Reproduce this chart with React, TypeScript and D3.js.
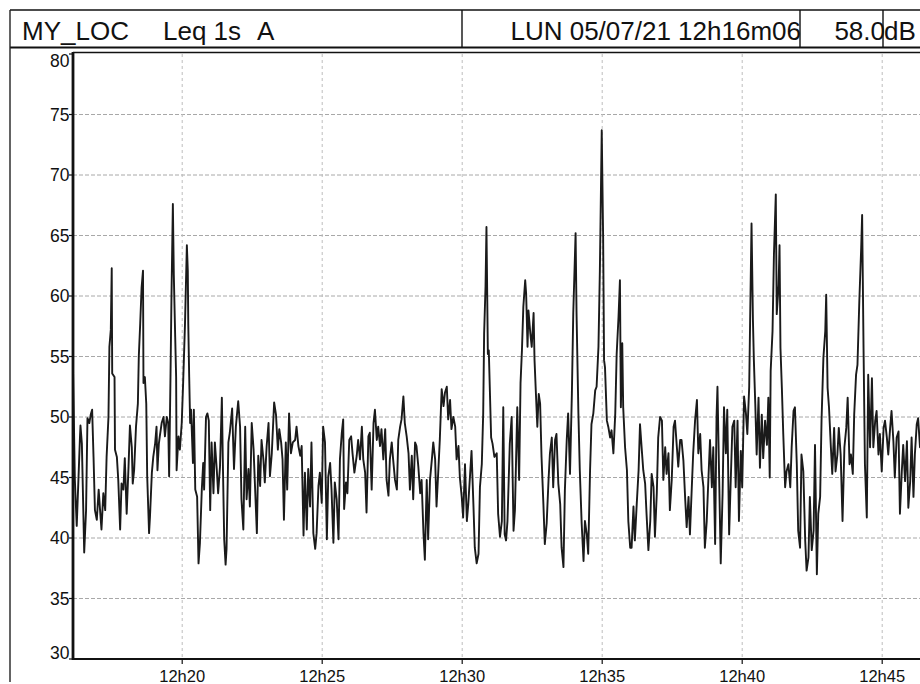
import React from "react";
import * as d3 from "d3";

// elapsed seconds since 12h16m06 and Leq 1s A level (dB)
const elapsedSec: number[] = [
  0, 4, 8, 15, 16, 19, 24, 28, 31, 35, 38, 41, 44, 47, 51, 55, 58, 61, 65, 69, 72, 76, 78, 81, 83, 84, 89, 90, 94, 97,
  101, 104, 108, 111, 115, 119, 122, 126, 128, 131, 135, 139, 141, 144, 147, 150, 151, 154, 157, 159, 163, 165, 169, 172, 176, 179, 181, 184, 186, 190,
  194, 197, 201, 204, 206, 209, 211, 214, 216, 219, 221, 222, 226, 229, 233, 236, 240, 244, 246, 247, 249, 251, 253, 257, 259, 262, 266, 269, 272, 276,
  279, 281, 285, 288, 291, 294,
  297, 301, 304, 308, 311, 315, 319, 321, 324, 327, 329, 333, 336, 341, 345, 349, 354, 358, 361, 365, 369, 372, 376, 379, 383, 387, 390, 394, 397, 401,
  404, 408, 411, 415, 419, 422, 426, 431, 435, 439, 442, 446, 449, 452, 456, 459, 463, 467, 471, 476, 479, 483, 487, 490, 494, 497, 501, 504, 508, 511,
  515, 519, 522, 526, 529, 533, 536, 540, 544, 547, 551, 554, 558, 561, 565, 569, 572, 576, 579, 581, 585, 588, 592, 596, 599, 603,
  608, 611, 615, 619, 622, 626, 629, 633, 636, 640, 644, 647, 651, 654, 658, 661, 665, 669, 672, 676, 679, 683, 686, 690, 694, 697, 701, 704, 708, 711,
  715, 719, 722, 726, 729, 733, 736, 740, 744, 747, 751, 754, 758, 761, 765, 769, 772, 776, 779, 783, 786, 790, 794, 797, 801, 804, 808, 811, 815, 819,
  822, 826,
  829, 833, 836, 840, 844, 847, 851, 854, 858, 861, 865, 869, 872, 876, 879, 881, 884, 886, 889, 891, 896, 899, 903, 908, 911, 915, 919, 922, 925, 928,
  931, 936, 940, 944, 947, 952, 956, 959, 962, 965, 969, 971, 974, 976, 980, 983, 987, 989, 992, 995, 998, 1001, 1004, 1008, 1011, 1015, 1019, 1022, 1026, 1029,
  1033, 1036, 1040, 1044, 1047, 1051, 1054, 1058, 1061, 1065, 1069, 1072, 1077, 1079, 1083, 1086, 1090, 1094, 1097, 1101, 1104, 1108, 1111, 1115, 1119, 1122, 1126, 1129, 1133, 1136,
  1138, 1140,
  1144, 1147, 1151, 1154, 1158, 1162, 1165, 1169, 1172, 1174, 1177, 1179, 1183, 1187, 1190, 1194, 1197, 1201, 1204, 1208, 1212, 1215, 1219, 1222, 1226, 1229, 1233, 1237, 1240, 1244,
  1247, 1251, 1254, 1258, 1262, 1265, 1269, 1272, 1276, 1279, 1283, 1287, 1290, 1294, 1297, 1301, 1304, 1308, 1312, 1315, 1319, 1322, 1326, 1329, 1333, 1337, 1340, 1344, 1347, 1351,
  1354, 1358, 1362, 1365, 1369, 1372, 1376, 1379, 1381, 1385, 1388, 1392, 1395, 1399, 1402, 1406, 1409, 1413, 1417, 1420, 1424, 1427, 1431, 1434, 1438, 1442, 1445, 1449, 1451, 1454,
  1457, 1459, 1462,
  1465, 1469, 1472, 1476, 1479, 1483, 1487, 1490, 1493, 1495, 1499, 1502, 1506, 1508, 1512, 1514, 1516, 1519, 1522, 1526, 1529, 1533, 1537, 1540, 1544, 1547, 1551, 1554, 1558, 1561,
  1565, 1569, 1572, 1576, 1579, 1583, 1587, 1590, 1594, 1597, 1601, 1604, 1608, 1612, 1614, 1617, 1620, 1624, 1627, 1631, 1634, 1638, 1641, 1645, 1649, 1653, 1657, 1660, 1664, 1667,
  1671, 1674, 1678, 1681, 1685, 1689, 1691, 1694, 1697, 1701, 1704, 1708, 1712, 1715, 1719, 1722, 1726, 1729, 1733, 1737, 1740, 1744, 1747, 1751, 1754, 1758, 1761, 1765, 1769, 1772,
  1776, 1779, 1783, 1787, 1790, 1794, 1797, 1801, 1804, 1808, 1811, 1815, 1822,
];

const levelDb: number[] = [
  54, 44.8, 41, 48.4, 49.3, 47.8, 38.8, 42.3, 49.9, 49.5, 50.2, 50.6, 46.7, 42.3, 41.5, 44, 42.3, 40.7, 43.7, 42.3, 46.7, 50, 55.8, 57.2, 62.3, 53.6, 53.3, 47.3, 46.7, 44.8,
  40.7, 44.5, 44, 46.6, 42, 45.9, 49.3, 47.5, 44.5, 45.6, 49.2, 51.1, 55, 57.7, 60.7, 62.1, 52.8, 53.3, 51.1, 45.1, 40.4, 41.8, 45.4, 46.7, 47.8, 49.2, 45.6, 47.8, 48.4, 49.5,
  50, 48.4, 50, 49.5, 45.1, 53.6, 59.9, 67.6, 61.8, 56.6, 53.3, 45.6, 48.4, 47.3, 49.5, 52.8, 57.7, 64.2, 62.1, 57.7, 53.3, 49.5, 50.6, 46.2, 50.6, 44, 43.4, 37.9, 39.6, 44,
  46.2, 44, 50, 50.3, 49.7, 42.3,
  47.9, 43.7, 47.9, 45.7, 43.7, 45.9, 51.6, 46.5, 39.9, 37.8, 39.1, 47.9, 48.7, 50.7, 45.7, 49.2, 51.3, 49.2, 43.2, 40.7, 49.2, 43.2, 45.7, 42.6, 49.5, 47.3, 44.3, 40.4, 46.8, 44.3,
  48.1, 46.5, 44.6, 47.6, 49.5, 45.1, 47, 51.2, 50.2, 47.3, 49, 47.9, 46.5, 41.5, 47.9, 44, 50.3, 47, 47.9, 48.1, 49.2, 47.6, 46.8, 47.6, 40.2, 45.4, 40.7, 45.7, 42.6, 47.9,
  40.4, 39.1, 40.4, 44.3, 45.4, 42.9, 49.2, 47.9, 39.9, 45.1, 46.2, 44, 39.6, 44.6, 43.2, 39.9, 46.5, 48.7, 49.8, 42.4, 44.6, 43.7, 48.1, 48.4, 47, 45.4,
  46.8, 48.1, 46.5, 49.2, 46.5, 45.4, 42.1, 48.4, 48.7, 44, 49.5, 50.6, 48.1, 49.2, 47.6, 49, 46.5, 49, 44.8, 43.5, 46.5, 47.9, 46.5, 44.8, 44, 48.1, 49.2, 49.8, 51.7, 49.5,
  48.4, 47, 44, 46.8, 43.2, 47.9, 47.6, 45.9, 43.7, 44.8, 40.4, 38.2, 44.8, 39.9, 44.8, 46.5, 47.9, 46.5, 42.6, 45.7, 48.1, 52.3, 50.9, 52, 52.5, 49.8, 51.4, 49, 50, 49.2,
  46.5, 47.6,
  45, 43.4, 41.7, 46.1, 41.4, 42.8, 45.3, 47.2, 42.8, 39.2, 37.9, 38.7, 44.2, 46.1, 50.3, 56.9, 60.8, 65.7, 55.2, 55.5, 48.3, 47.8, 46.7, 47, 42, 40.1, 41.4, 50.8, 40.3, 39.8,
  41.4, 47.8, 50, 40.6, 42.3, 50.8, 44.8, 52.8, 55.5, 59.1, 61.3, 60.2, 55.8, 58.8, 56.9, 55.8, 58.6, 54.7, 51.9, 49.2, 51.9, 51.1, 46.7, 42.8, 39.5, 41.2, 44.8, 47, 48.3, 44.2,
  48.1, 48.6, 44.5, 42.8, 39.2, 37.6, 43.9, 48.1, 50.3, 45.3, 51.9, 58.6, 65.2, 58.6, 50.3, 45.6, 41.2, 38.1, 41.4, 40.3, 38.7, 45.6, 49.4, 50.3, 52.2, 52.5, 55.8, 62.1, 73.7, 64.9,
  54.7, 54.1,
  49.7, 49.2, 48.3, 48.9, 47, 50.3, 55.2, 58.3, 61.3, 50.8, 56.1, 50.8, 47.5, 45.6, 41.4, 39.2, 39.2, 42.6, 39.8, 42.8, 45.6, 49.4, 47.2, 45.6, 44.5, 42, 39, 41.4, 45.3, 44.2,
  40.1, 43.7, 48.3, 50, 49.7, 44.8, 47.5, 45.3, 47, 42.3, 44.8, 49.2, 49.7, 47.5, 45.9, 48.1, 48.1, 46.4, 43.1, 40.9, 43.4, 40.3, 44.2, 47, 49.7, 51.4, 47, 48.6, 45.6, 44.2,
  39.2, 41.4, 45.3, 48.1, 44.2, 47.5, 39.5, 50, 52.5, 44.2, 37.9, 43.7, 50.8, 47, 50.6, 40.3, 44.2, 49.2, 49.7, 44.2, 49.7, 41.4, 47.2, 44.2, 51.7, 50.3, 48.6, 52.5, 58, 66,
  58, 54.7, 51.1,
  46.9, 51.6, 45.8, 50.2, 46.6, 49.7, 47.7, 51.6, 45, 53.8, 57.1, 63.4, 68.4, 58.5, 60.9, 64.2, 55.7, 52.4, 48.6, 44.2, 45.5, 46.1, 44.2, 47.5, 50.5, 50.8, 46.1, 40.6, 39.2, 46.9,
  45.5, 39.8, 37.3, 38.4, 43.4, 39, 40.6, 47.7, 37, 42, 43.4, 49.7, 54.9, 57.1, 60.1, 52.4, 50.8, 47.5, 45.3, 49.1, 45.5, 46.9, 49.1, 46.9, 41.4, 47.5, 49.1, 51.6, 46.1, 46.9,
  45.3, 50.2, 53.5, 54.3, 59.6, 64, 66.7, 55.7, 46.1, 41.7, 53.5, 47.5, 53.2, 47.5, 49.7, 50.5, 46.9, 48.6, 45.5, 49.1, 49.7, 48.3, 46.9, 49.1, 50.5, 48, 45, 48.3, 48.8, 42,
  45.5, 47.7, 44.7, 48, 42.5, 44.7, 48.3, 43.4, 46.9, 49.4, 49.9, 47.5, 49,
];

const yTicks: number[] = [30, 35, 40, 45, 50, 55, 60, 65, 70, 75, 80];
const xTickMinutes: number[] = [20, 25, 30, 35, 40, 45];

const titleLeft = "MY_LOC";
const titleMode = "Leq 1s";
const titleWeight = "A";
const titleDate = "LUN 05/07/21 12h16m06";
const titleValue = "58.0";
const titleUnit = "dB";

const FONT = "'Liberation Sans', Arial, sans-serif";

export default function App() {
  const W = 920;
  const H = 684;
  const start = new Date(2021, 6, 5, 12, 16, 6);
  const end = new Date(start.getTime() + 1824 * 1000);

  const x = d3.scaleTime().domain([start, end]).range([73, 73 + (1824 / 60) * 28]);
  const y = d3.scaleLinear().domain([30, 80]).range([659, 54]);

  const pts: [Date, number][] = elapsedSec.map((s, i) => [new Date(start.getTime() + s * 1000), levelDb[i]]);
  const line = d3
    .line<[Date, number]>()
    .x((d) => x(d[0]))
    .y((d) => y(d[1]));

  const xTicks = xTickMinutes.map((m) => new Date(2021, 6, 5, 12, m, 0));
  const fmt = d3.timeFormat("%Hh%M");

  const left = x(start);
  const bottom = y(30);
  const top = y(80);

  return (
    <svg
      width={W}
      height={H}
      style={{ position: "fixed", left: 0, top: 0, background: "#fff" }}
    >
      <rect x={0} y={0} width={W} height={H} fill="#fff" />
      {/* header */}
      <line x1={10} y1={10} x2={W} y2={10} stroke="#111" strokeWidth={1.6} />
      <line x1={10} y1={47.5} x2={W} y2={47.5} stroke="#111" strokeWidth={2} />
      <line x1={10} y1={10} x2={10} y2={682} stroke="#222" strokeWidth={1.4} />
      <line x1={462} y1={10} x2={462} y2={47.5} stroke="#111" strokeWidth={1.4} />
      <line x1={800} y1={10} x2={800} y2={47.5} stroke="#111" strokeWidth={1.4} />
      <line x1={883} y1={10} x2={883} y2={47.5} stroke="#111" strokeWidth={1.4} />
      <text x={22} y={40} fontFamily={FONT} fontSize={26} fill="#111">{titleLeft}</text>
      <text x={163} y={40} fontFamily={FONT} fontSize={26} fill="#111">{titleMode}</text>
      <text x={257} y={40} fontFamily={FONT} fontSize={26} fill="#111">{titleWeight}</text>
      <text x={801} y={40} textAnchor="end" fontFamily={FONT} fontSize={26} fill="#111">{titleDate}</text>
      <text x={885} y={40} textAnchor="end" fontFamily={FONT} fontSize={26} fill="#111">{titleValue}</text>
      <text x={884} y={40} fontFamily={FONT} fontSize={26} fill="#111">{titleUnit}</text>

      {/* grid */}
      {yTicks
        .filter((v) => v > 30 && v < 80)
        .map((v) => (
          <line key={"gy" + v} x1={left} x2={W} y1={y(v)} y2={y(v)} stroke="#a8a8a8" strokeWidth={1} strokeDasharray="4,2" />
        ))}
      {xTicks.map((d, i) => (
        <line key={"gx" + i} x1={x(d)} x2={x(d)} y1={top} y2={bottom} stroke="#bdbdbd" strokeWidth={1} strokeDasharray="3,3" />
      ))}

      {/* data */}
      <path d={line(pts) || ""} fill="none" stroke="#1a1a1a" strokeWidth={1.9} strokeLinejoin="round" />

      {/* frame / axes */}
      <line x1={left} y1={52.5} x2={W} y2={52.5} stroke="#111" strokeWidth={1.6} />
      <line x1={left} y1={52} x2={left} y2={bottom + 1} stroke="#111" strokeWidth={2.8} />
      <line x1={left} y1={bottom} x2={W} y2={bottom} stroke="#111" strokeWidth={2} />

      {yTicks.map((v) => {
        const yy = y(v);
        const ly = v === 80 ? yy + 7 : v === 30 ? yy - 6 : yy;
        return (
          <g key={"ty" + v}>
            <line x1={left - 4} x2={left} y1={yy} y2={yy} stroke="#111" strokeWidth={1.2} />
            <text x={69.5} y={ly} dy="0.35em" textAnchor="end" fontFamily={FONT} fontSize={17.5} fill="#111">
              {v}
            </text>
          </g>
        );
      })}
      {xTicks.map((d, i) => (
        <g key={"tx" + i}>
          <line x1={x(d)} x2={x(d)} y1={bottom} y2={bottom + 5} stroke="#111" strokeWidth={1.2} />
          <text x={x(d)} y={682} textAnchor="middle" fontFamily={FONT} fontSize={16.5} fill="#111">
            {fmt(d)}
          </text>
        </g>
      ))}
    </svg>
  );
}
